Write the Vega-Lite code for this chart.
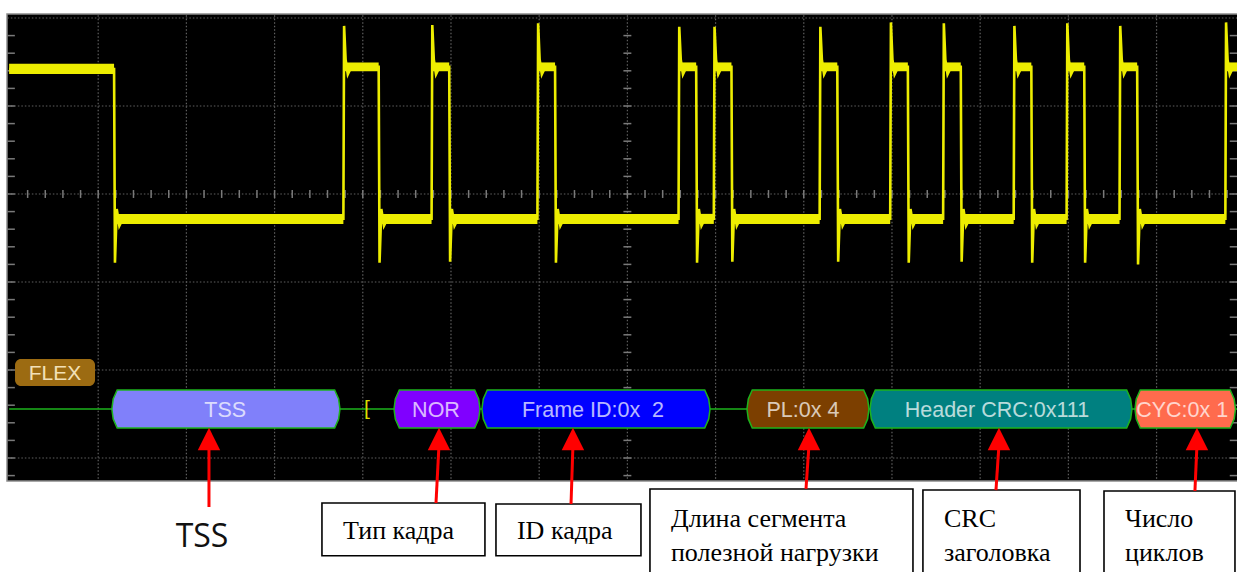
{
  "$schema": "https://vega.github.io/schema/vega-lite/v6.json",
  "width": 1237,
  "height": 572,
  "autosize": {"type": "fit", "contains": "padding"},
  "padding": 0,
  "background": "#ffffff",
  "config": {"view": {"stroke": null}},
  "datasets": {
    "ticks": [{"v":0.2},{"v":0.4},{"v":0.6},{"v":0.8},{"v":1},{"v":1.2},{"v":1.4},{"v":1.6},{"v":1.8},{"v":2},{"v":2.2},{"v":2.4},{"v":2.6},{"v":2.8},{"v":3},{"v":3.2},{"v":3.4},{"v":3.6},{"v":3.8},{"v":4},{"v":4.2},{"v":4.4},{"v":4.6},{"v":4.8},{"v":5},{"v":5.2},{"v":5.4},{"v":5.6},{"v":5.8},{"v":6},{"v":6.2},{"v":6.4},{"v":6.6},{"v":6.8},{"v":7},{"v":7.2},{"v":7.4},{"v":7.6},{"v":7.8},{"v":8},{"v":8.2},{"v":8.4},{"v":8.6},{"v":8.8},{"v":9},{"v":9.2},{"v":9.4},{"v":9.6},{"v":9.8},{"v":10},{"v":10.2},{"v":10.4},{"v":10.6},{"v":10.8},{"v":11},{"v":11.2},{"v":11.4},{"v":11.6},{"v":11.8},{"v":12},{"v":12.2},{"v":12.4},{"v":12.6},{"v":12.8},{"v":13},{"v":13.2},{"v":13.4},{"v":13.6},{"v":13.8}]
  },
  "layer": [
    {
      "data": {"values": [{"t": -0.034, "t2": 14.0, "k": -0.045, "k2": 5.261}]},
      "mark": {"type": "rect", "fill": "#000000", "stroke": "#8c8c8c", "strokeWidth": 1.5, "clip": true},
      "encoding": {
        "x": {"field": "t", "type": "quantitative", "scale": {"domain": [-0.1134, 13.912], "nice": false, "zero": false}, "axis": null},
        "x2": {"field": "t2"},
        "y": {"field": "k", "type": "quantitative", "scale": {"domain": [-0.2045, 6.2955], "reverse": true, "nice": false, "zero": false}, "axis": null},
        "y2": {"field": "k2"}
      }
    },
    {
      "data": {"values": [{"t":1},{"t":2},{"t":3},{"t":4},{"t":5},{"t":6},{"t":7},{"t":8},{"t":9},{"t":10},{"t":11},{"t":12},{"t":13}]},
      "mark": {"type": "rule", "stroke": "#606060", "strokeWidth": 1.2, "strokeDash": [1.5, 2], "clip": true},
      "encoding": {
        "x": {"field": "t", "type": "quantitative", "scale": {"domain": [-0.1134, 13.912], "nice": false, "zero": false}, "axis": null},
        "y": {"datum": -0.03, "type": "quantitative", "scale": {"domain": [-0.2045, 6.2955], "reverse": true, "nice": false, "zero": false}, "axis": null},
        "y2": {"datum": 5.25}
      }
    },
    {
      "data": {"values": [{"k":0},{"k":1},{"k":2},{"k":3},{"k":4},{"k":5}]},
      "mark": {"type": "rule", "stroke": "#606060", "strokeWidth": 1.2, "strokeDash": [1.5, 2], "clip": true},
      "encoding": {
        "y": {"field": "k", "type": "quantitative", "scale": {"domain": [-0.2045, 6.2955], "reverse": true, "nice": false, "zero": false}, "axis": null},
        "x": {"datum": -0.03, "type": "quantitative", "scale": {"domain": [-0.1134, 13.912], "nice": false, "zero": false}, "axis": null},
        "x2": {"datum": 13.912}
      }
    },
    {
      "data": {"name": "ticks"},
      "mark": {"type": "rule", "stroke": "#7a7a7a", "strokeWidth": 1.5, "clip": true},
      "encoding": {
        "x": {"field": "v", "type": "quantitative", "scale": {"domain": [-0.1134, 13.912], "nice": false, "zero": false}, "axis": null},
        "y": {"datum": 1.955, "type": "quantitative", "scale": {"domain": [-0.2045, 6.2955], "reverse": true, "nice": false, "zero": false}, "axis": null},
        "y2": {"datum": 2.045}
      }
    },
    {
      "data": {"name": "ticks"},
      "transform": [{"filter": "datum.v < 5.25"}],
      "mark": {"type": "rule", "stroke": "#7a7a7a", "strokeWidth": 1.5, "clip": true},
      "encoding": {
        "y": {"field": "v", "type": "quantitative", "scale": {"domain": [-0.2045, 6.2955], "reverse": true, "nice": false, "zero": false}, "axis": null},
        "x": {"datum": 6.955, "type": "quantitative", "scale": {"domain": [-0.1134, 13.912], "nice": false, "zero": false}, "axis": null},
        "x2": {"datum": 7.045}
      }
    },
    {
      "data": {"name": "ticks"},
      "transform": [{"filter": "datum.v < 5.25"}],
      "mark": {"type": "rule", "stroke": "#7a7a7a", "strokeWidth": 1.5, "clip": true},
      "encoding": {
        "y": {"field": "v", "type": "quantitative", "scale": {"domain": [-0.2045, 6.2955], "reverse": true, "nice": false, "zero": false}, "axis": null},
        "x": {"datum": -0.03, "type": "quantitative", "scale": {"domain": [-0.1134, 13.912], "nice": false, "zero": false}, "axis": null},
        "x2": {"datum": 0.055}
      }
    },
    {
      "data": {"name": "ticks"},
      "transform": [{"filter": "datum.v < 5.25"}],
      "mark": {"type": "rule", "stroke": "#7a7a7a", "strokeWidth": 1.5, "clip": true},
      "encoding": {
        "y": {"field": "v", "type": "quantitative", "scale": {"domain": [-0.2045, 6.2955], "reverse": true, "nice": false, "zero": false}, "axis": null},
        "x": {"datum": 13.83, "type": "quantitative", "scale": {"domain": [-0.1134, 13.912], "nice": false, "zero": false}, "axis": null},
        "x2": {"datum": 13.912}
      }
    },
    {
      "data": {"values": [
        {"t":-0.01,"t2":1.18,"k":0.52,"k2":0.635},
        {"t":3.79,"t2":4.18,"k":0.505,"k2":0.605},
        {"t":4.79,"t2":4.98,"k":0.505,"k2":0.605},
        {"t":5.99,"t2":6.18,"k":0.505,"k2":0.605},
        {"t":7.59,"t2":7.78,"k":0.505,"k2":0.605},
        {"t":7.99,"t2":8.18,"k":0.505,"k2":0.605},
        {"t":9.19,"t2":9.38,"k":0.505,"k2":0.605},
        {"t":9.99,"t2":10.18,"k":0.505,"k2":0.605},
        {"t":10.59,"t2":10.78,"k":0.505,"k2":0.605},
        {"t":11.39,"t2":11.58,"k":0.505,"k2":0.605},
        {"t":11.99,"t2":12.18,"k":0.505,"k2":0.605},
        {"t":12.59,"t2":12.78,"k":0.505,"k2":0.605},
        {"t":13.79,"t2":13.912,"k":0.505,"k2":0.605},
        {"t":1.19,"t2":3.78,"k":2.226,"k2":2.34},
        {"t":4.19,"t2":4.78,"k":2.226,"k2":2.34},
        {"t":4.99,"t2":5.98,"k":2.226,"k2":2.34},
        {"t":6.19,"t2":7.58,"k":2.226,"k2":2.34},
        {"t":7.79,"t2":7.98,"k":2.226,"k2":2.34},
        {"t":8.19,"t2":9.18,"k":2.226,"k2":2.34},
        {"t":9.39,"t2":9.98,"k":2.226,"k2":2.34},
        {"t":10.19,"t2":10.58,"k":2.226,"k2":2.34},
        {"t":10.79,"t2":11.38,"k":2.226,"k2":2.34},
        {"t":11.59,"t2":11.98,"k":2.226,"k2":2.34},
        {"t":12.19,"t2":12.58,"k":2.226,"k2":2.34},
        {"t":12.79,"t2":13.78,"k":2.226,"k2":2.34}
      ]},
      "mark": {"type": "rect", "fill": "#eded00", "clip": true},
      "encoding": {
        "x": {"field": "t", "type": "quantitative", "scale": {"domain": [-0.1134, 13.912], "nice": false, "zero": false}, "axis": null},
        "x2": {"field": "t2"},
        "y": {"field": "k", "type": "quantitative", "scale": {"domain": [-0.2045, 6.2955], "reverse": true, "nice": false, "zero": false}, "axis": null},
        "y2": {"field": "k2"}
      }
    },
    {
      "data": {"values": [
        {"t":-0.01,"k":0.58},{"t":1.18,"k":0.58},{"t":1.19,"k":2.78},{"t":1.21,"k":2.17},{"t":1.24,"k":2.36},{"t":1.28,"k":2.28},
        {"t":3.78,"k":2.28},{"t":3.788,"k":0.09},{"t":3.805,"k":0.47},{"t":3.83,"k":0.64},{"t":3.87,"k":0.555},
        {"t":4.18,"k":0.555},{"t":4.19,"k":2.78},{"t":4.21,"k":2.17},{"t":4.24,"k":2.36},{"t":4.28,"k":2.28},
        {"t":4.78,"k":2.28},{"t":4.788,"k":0.08},{"t":4.805,"k":0.47},{"t":4.83,"k":0.64},{"t":4.87,"k":0.555},
        {"t":4.98,"k":0.555},{"t":4.99,"k":2.77},{"t":5.01,"k":2.17},{"t":5.04,"k":2.36},{"t":5.08,"k":2.28},
        {"t":5.98,"k":2.28},{"t":5.988,"k":0.06},{"t":6.005,"k":0.47},{"t":6.03,"k":0.64},{"t":6.07,"k":0.555},
        {"t":6.18,"k":0.555},{"t":6.19,"k":2.78},{"t":6.21,"k":2.17},{"t":6.24,"k":2.36},{"t":6.28,"k":2.28},
        {"t":7.58,"k":2.28},{"t":7.588,"k":0.1},{"t":7.605,"k":0.47},{"t":7.63,"k":0.64},{"t":7.67,"k":0.555},
        {"t":7.78,"k":0.555},{"t":7.79,"k":2.78},{"t":7.81,"k":2.17},{"t":7.84,"k":2.36},{"t":7.88,"k":2.28},
        {"t":7.98,"k":2.28},{"t":7.988,"k":0.1},{"t":8.005,"k":0.47},{"t":8.03,"k":0.64},{"t":8.07,"k":0.555},
        {"t":8.18,"k":0.555},{"t":8.19,"k":2.77},{"t":8.21,"k":2.17},{"t":8.24,"k":2.36},{"t":8.28,"k":2.28},
        {"t":9.18,"k":2.28},{"t":9.188,"k":0.1},{"t":9.205,"k":0.47},{"t":9.23,"k":0.64},{"t":9.27,"k":0.555},
        {"t":9.38,"k":0.555},{"t":9.39,"k":2.77},{"t":9.41,"k":2.17},{"t":9.44,"k":2.36},{"t":9.48,"k":2.28},
        {"t":9.98,"k":2.28},{"t":9.988,"k":0.05},{"t":10.005,"k":0.47},{"t":10.03,"k":0.64},{"t":10.07,"k":0.555},
        {"t":10.18,"k":0.555},{"t":10.19,"k":2.78},{"t":10.21,"k":2.17},{"t":10.24,"k":2.36},{"t":10.28,"k":2.28},
        {"t":10.58,"k":2.28},{"t":10.588,"k":0.06},{"t":10.605,"k":0.47},{"t":10.63,"k":0.64},{"t":10.67,"k":0.555},
        {"t":10.78,"k":0.555},{"t":10.79,"k":2.77},{"t":10.81,"k":2.17},{"t":10.84,"k":2.36},{"t":10.88,"k":2.28},
        {"t":11.38,"k":2.28},{"t":11.388,"k":0.09},{"t":11.405,"k":0.47},{"t":11.43,"k":0.64},{"t":11.47,"k":0.555},
        {"t":11.58,"k":0.555},{"t":11.59,"k":2.78},{"t":11.61,"k":2.17},{"t":11.64,"k":2.36},{"t":11.68,"k":2.28},
        {"t":11.98,"k":2.28},{"t":11.988,"k":0.06},{"t":12.005,"k":0.47},{"t":12.03,"k":0.64},{"t":12.07,"k":0.555},
        {"t":12.18,"k":0.555},{"t":12.19,"k":2.78},{"t":12.21,"k":2.17},{"t":12.24,"k":2.36},{"t":12.28,"k":2.28},
        {"t":12.58,"k":2.28},{"t":12.588,"k":0.09},{"t":12.605,"k":0.47},{"t":12.63,"k":0.64},{"t":12.67,"k":0.555},
        {"t":12.78,"k":0.555},{"t":12.79,"k":2.8},{"t":12.81,"k":2.17},{"t":12.84,"k":2.36},{"t":12.88,"k":2.28},
        {"t":13.78,"k":2.28},{"t":13.788,"k":0.05},{"t":13.805,"k":0.47},{"t":13.83,"k":0.64},{"t":13.87,"k":0.555},
        {"t":13.912,"k":0.555}
      ]},
      "mark": {"type": "line", "stroke": "#eded00", "strokeWidth": 2.6, "strokeJoin": "miter", "clip": true},
      "encoding": {
        "x": {"field": "t", "type": "quantitative", "scale": {"domain": [-0.1134, 13.912], "nice": false, "zero": false}, "axis": null},
        "y": {"field": "k", "type": "quantitative", "scale": {"domain": [-0.2045, 6.2955], "reverse": true, "nice": false, "zero": false}, "axis": null}
      }
    },
    {
      "data": {"values": [{"t": 0.057, "t2": 0.964, "k": 3.875, "k2": 4.182}]},
      "mark": {"type": "rect", "fill": "#9c6b12", "cornerRadius": 6, "clip": true},
      "encoding": {
        "x": {"field": "t", "type": "quantitative", "scale": {"domain": [-0.1134, 13.912], "nice": false, "zero": false}, "axis": null},
        "x2": {"field": "t2"},
        "y": {"field": "k", "type": "quantitative", "scale": {"domain": [-0.2045, 6.2955], "reverse": true, "nice": false, "zero": false}, "axis": null},
        "y2": {"field": "k2"}
      }
    },
    {
      "data": {"values": [{"t": 0.51, "k": 4.114, "label": "FLEX"}]},
      "mark": {"type": "text", "font": "Liberation Sans", "fontSize": 21, "fill": "#f2e0b6", "align": "center", "baseline": "alphabetic", "clip": true},
      "encoding": {
        "x": {"field": "t", "type": "quantitative", "scale": {"domain": [-0.1134, 13.912], "nice": false, "zero": false}, "axis": null},
        "y": {"field": "k", "type": "quantitative", "scale": {"domain": [-0.2045, 6.2955], "reverse": true, "nice": false, "zero": false}, "axis": null},
        "text": {"field": "label"}
      }
    },
    {
      "data": {"values": [{"t": -0.01, "t2": 13.912, "k": 4.443}]},
      "mark": {"type": "rule", "stroke": "#1db31d", "strokeWidth": 1.6, "clip": true},
      "encoding": {
        "x": {"field": "t", "type": "quantitative", "scale": {"domain": [-0.1134, 13.912], "nice": false, "zero": false}, "axis": null},
        "x2": {"field": "t2"},
        "y": {"field": "k", "type": "quantitative", "scale": {"domain": [-0.2045, 6.2955], "reverse": true, "nice": false, "zero": false}, "axis": null}
      }
    },
    {
      "data": {"values": [
        {"seg":"TSS","t":1.155,"k":4.443,"k2":4.443},{"seg":"TSS","t":1.17,"k":4.33,"k2":4.556},{"seg":"TSS","t":1.215,"k":4.227,"k2":4.659},{"seg":"TSS","t":3.681,"k":4.227,"k2":4.659},{"seg":"TSS","t":3.726,"k":4.33,"k2":4.556},{"seg":"TSS","t":3.741,"k":4.443,"k2":4.443},
        {"seg":"NOR","t":4.354,"k":4.443,"k2":4.443},{"seg":"NOR","t":4.369,"k":4.33,"k2":4.556},{"seg":"NOR","t":4.414,"k":4.227,"k2":4.659},{"seg":"NOR","t":5.269,"k":4.227,"k2":4.659},{"seg":"NOR","t":5.314,"k":4.33,"k2":4.556},{"seg":"NOR","t":5.329,"k":4.443,"k2":4.443},
        {"seg":"FrameID","t":5.351,"k":4.443,"k2":4.443},{"seg":"FrameID","t":5.366,"k":4.33,"k2":4.556},{"seg":"FrameID","t":5.411,"k":4.227,"k2":4.659},{"seg":"FrameID","t":7.877,"k":4.227,"k2":4.659},{"seg":"FrameID","t":7.922,"k":4.33,"k2":4.556},{"seg":"FrameID","t":7.937,"k":4.443,"k2":4.443},
        {"seg":"PL","t":8.356,"k":4.443,"k2":4.443},{"seg":"PL","t":8.371,"k":4.33,"k2":4.556},{"seg":"PL","t":8.416,"k":4.227,"k2":4.659},{"seg":"PL","t":9.679,"k":4.227,"k2":4.659},{"seg":"PL","t":9.724,"k":4.33,"k2":4.556},{"seg":"PL","t":9.739,"k":4.443,"k2":4.443},
        {"seg":"HeaderCRC","t":9.751,"k":4.443,"k2":4.443},{"seg":"HeaderCRC","t":9.766,"k":4.33,"k2":4.556},{"seg":"HeaderCRC","t":9.811,"k":4.227,"k2":4.659},{"seg":"HeaderCRC","t":12.661,"k":4.227,"k2":4.659},{"seg":"HeaderCRC","t":12.706,"k":4.33,"k2":4.556},{"seg":"HeaderCRC","t":12.721,"k":4.443,"k2":4.443},
        {"seg":"CYC","t":12.755,"k":4.443,"k2":4.443},{"seg":"CYC","t":12.77,"k":4.33,"k2":4.556},{"seg":"CYC","t":12.815,"k":4.227,"k2":4.659},{"seg":"CYC","t":13.835,"k":4.227,"k2":4.659},{"seg":"CYC","t":13.88,"k":4.33,"k2":4.556},{"seg":"CYC","t":13.895,"k":4.443,"k2":4.443}
      ]},
      "mark": {"type": "area", "stroke": "#1db31d", "strokeWidth": 1.5, "interpolate": "linear", "opacity": 1, "clip": true},
      "encoding": {
        "x": {"field": "t", "type": "quantitative", "scale": {"domain": [-0.1134, 13.912], "nice": false, "zero": false}, "axis": null},
        "y": {"field": "k", "type": "quantitative", "stack": null, "scale": {"domain": [-0.2045, 6.2955], "reverse": true, "nice": false, "zero": false}, "axis": null},
        "y2": {"field": "k2"},
        "color": {"field": "seg", "type": "nominal", "scale": {"domain": ["TSS","NOR","FrameID","PL","HeaderCRC","CYC"], "range": ["#8080fa","#8000ff","#0000ff","#7c3f00","#008080","#ff6b4d"]}, "legend": null}
      }
    },
    {
      "data": {"values": [
        {"t": 2.44, "k": 4.534, "label": "TSS"},
        {"t": 4.83, "k": 4.534, "label": "NOR"},
        {"t": 6.61, "k": 4.534, "label": "Frame ID:0x\u00a0 2"},
        {"t": 8.99, "k": 4.534, "label": "PL:0x 4"},
        {"t": 11.19, "k": 4.534, "label": "Header CRC:0x111"},
        {"t": 13.29, "k": 4.534, "label": "CYC:0x 1"}
      ]},
      "mark": {"type": "text", "font": "Liberation Sans", "fontSize": 21.5, "fill": "#ffffff", "opacity": 0.72, "align": "center", "baseline": "alphabetic", "clip": true},
      "encoding": {
        "x": {"field": "t", "type": "quantitative", "scale": {"domain": [-0.1134, 13.912], "nice": false, "zero": false}, "axis": null},
        "y": {"field": "k", "type": "quantitative", "scale": {"domain": [-0.2045, 6.2955], "reverse": true, "nice": false, "zero": false}, "axis": null},
        "text": {"field": "label"}
      }
    },
    {
      "data": {"values": [{"t": 4.048, "k": 4.443, "label": "["}]},
      "mark": {"type": "text", "font": "Liberation Sans", "fontSize": 21, "fill": "#dede00", "align": "center", "baseline": "middle", "clip": true},
      "encoding": {
        "x": {"field": "t", "type": "quantitative", "scale": {"domain": [-0.1134, 13.912], "nice": false, "zero": false}, "axis": null},
        "y": {"field": "k", "type": "quantitative", "scale": {"domain": [-0.2045, 6.2955], "reverse": true, "nice": false, "zero": false}, "axis": null},
        "text": {"field": "label"}
      }
    },
    {
      "data": {"values": [
        {"t": 3.537, "t2": 5.385, "k": 5.511, "k2": 6.11},
        {"t": 5.51, "t2": 7.154, "k": 5.523, "k2": 6.11},
        {"t": 7.256, "t2": 10.238, "k": 5.352, "k2": 6.45},
        {"t": 10.351, "t2": 12.132, "k": 5.364, "k2": 6.45},
        {"t": 12.404, "t2": 13.889, "k": 5.375, "k2": 6.45}
      ]},
      "mark": {"type": "rect", "fill": "#ffffff", "stroke": "#000000", "strokeWidth": 1.6, "clip": true},
      "encoding": {
        "x": {"field": "t", "type": "quantitative", "scale": {"domain": [-0.1134, 13.912], "nice": false, "zero": false}, "axis": null},
        "x2": {"field": "t2"},
        "y": {"field": "k", "type": "quantitative", "scale": {"domain": [-0.2045, 6.2955], "reverse": true, "nice": false, "zero": false}, "axis": null},
        "y2": {"field": "k2"}
      }
    },
    {
      "data": {"values": [
        {"t": 3.776, "k": 5.92, "label": "Тип кадра"},
        {"t": 5.748, "k": 5.92, "label": "ID кадра"},
        {"t": 7.494, "k": 5.784, "label": "Длина сегмента\nполезной нагрузки"},
        {"t": 10.59, "k": 5.784, "label": "CRC\nзаголовка"},
        {"t": 12.642, "k": 5.784, "label": "Число\nциклов"}
      ]},
      "mark": {"type": "text", "font": "Liberation Serif", "fontSize": 26, "fill": "#000000", "align": "left", "baseline": "alphabetic", "lineBreak": "\n", "lineHeight": 34, "clip": true},
      "encoding": {
        "x": {"field": "t", "type": "quantitative", "scale": {"domain": [-0.1134, 13.912], "nice": false, "zero": false}, "axis": null},
        "y": {"field": "k", "type": "quantitative", "scale": {"domain": [-0.2045, 6.2955], "reverse": true, "nice": false, "zero": false}, "axis": null},
        "text": {"field": "label"}
      }
    },
    {
      "data": {"values": [{"t": 2.177, "k": 6.011, "label": "TSS"}]},
      "mark": {"type": "text", "font": "Open Sans", "fontSize": 32, "fill": "#111111", "align": "center", "baseline": "alphabetic", "clip": true},
      "encoding": {
        "x": {"field": "t", "type": "quantitative", "scale": {"domain": [-0.1134, 13.912], "nice": false, "zero": false}, "axis": null},
        "y": {"field": "k", "type": "quantitative", "scale": {"domain": [-0.2045, 6.2955], "reverse": true, "nice": false, "zero": false}, "axis": null},
        "text": {"field": "label"}
      }
    },
    {
      "data": {"values": [
        {"t": 2.256, "k": 4.85, "t2": 2.256, "k2": 5.557},
        {"t": 4.864, "k": 4.85, "t2": 4.83, "k2": 5.511},
        {"t": 6.383, "k": 4.85, "t2": 6.361, "k2": 5.523},
        {"t": 9.059, "k": 4.85, "t2": 9.025, "k2": 5.352},
        {"t": 11.213, "k": 4.85, "t2": 11.179, "k2": 5.364},
        {"t": 13.458, "k": 4.85, "t2": 13.435, "k2": 5.375}
      ]},
      "mark": {"type": "rule", "stroke": "#ff0000", "strokeWidth": 3, "clip": true},
      "encoding": {
        "x": {"field": "t", "type": "quantitative", "scale": {"domain": [-0.1134, 13.912], "nice": false, "zero": false}, "axis": null},
        "x2": {"field": "t2"},
        "y": {"field": "k", "type": "quantitative", "scale": {"domain": [-0.2045, 6.2955], "reverse": true, "nice": false, "zero": false}, "axis": null},
        "y2": {"field": "k2"}
      }
    },
    {
      "data": {"values": [
        {"t": 2.256, "k": 4.784},
        {"t": 4.864, "k": 4.784},
        {"t": 6.383, "k": 4.784},
        {"t": 9.059, "k": 4.784},
        {"t": 11.213, "k": 4.784},
        {"t": 13.458, "k": 4.784}
      ]},
      "mark": {"type": "point", "shape": "M0,-1L1,1L-1,1Z", "size": 506, "filled": true, "fill": "#ff0000", "opacity": 1, "strokeWidth": 0, "clip": true},
      "encoding": {
        "x": {"field": "t", "type": "quantitative", "scale": {"domain": [-0.1134, 13.912], "nice": false, "zero": false}, "axis": null},
        "y": {"field": "k", "type": "quantitative", "scale": {"domain": [-0.2045, 6.2955], "reverse": true, "nice": false, "zero": false}, "axis": null}
      }
    }
  ]
}
